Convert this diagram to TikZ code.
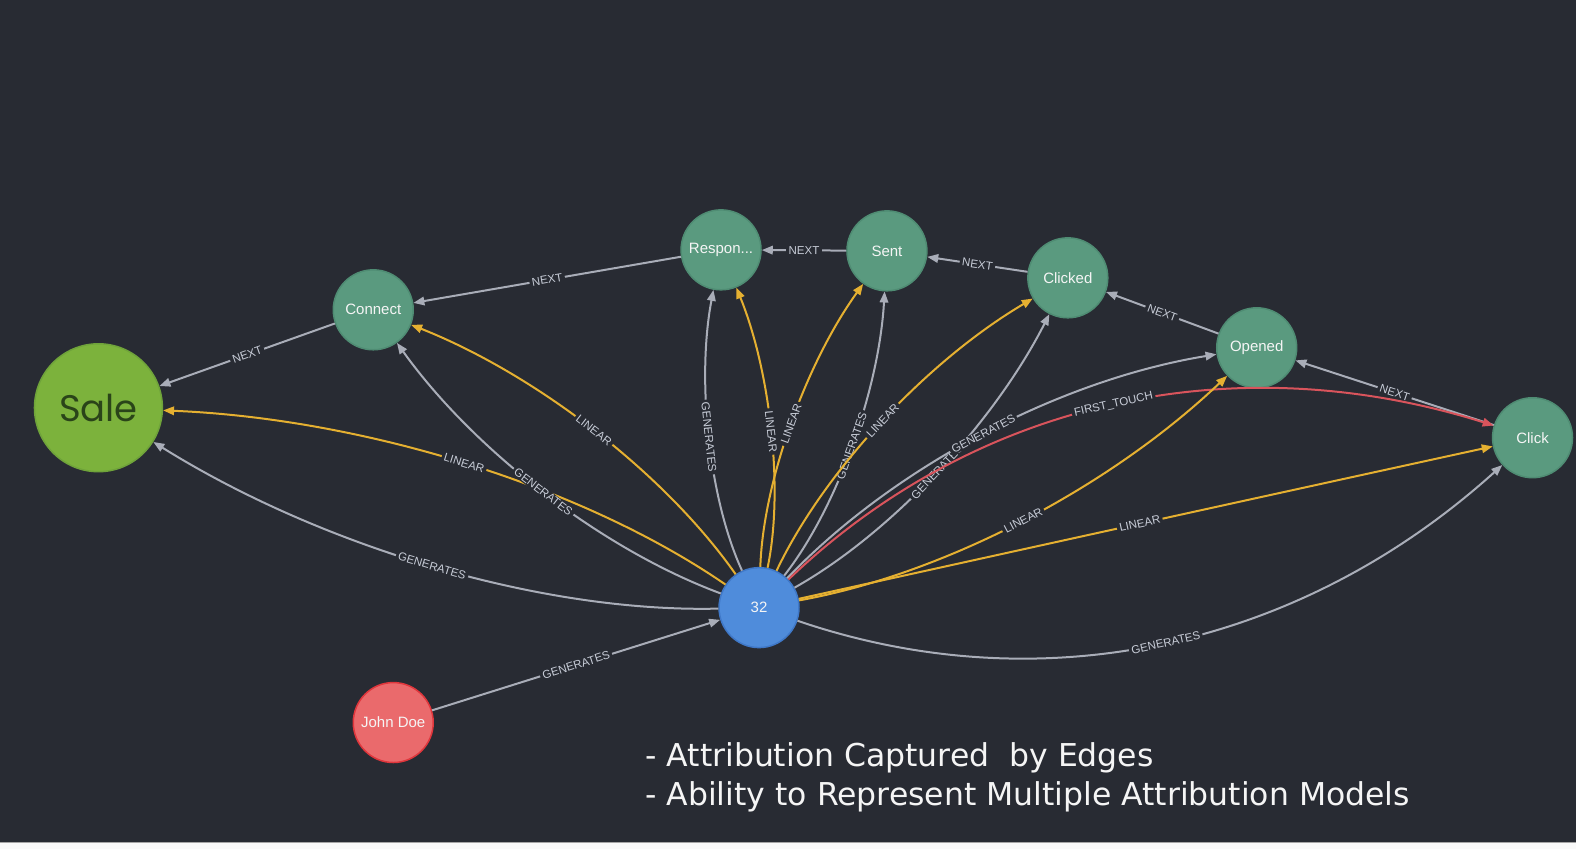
\documentclass[tikz,border=0pt]{standalone}
\usepackage{fontspec}
\setmainfont{Liberation Sans}
\newfontfamily\salefont{Poppins}
\newfontfamily\capfont{DejaVu Sans}
\usetikzlibrary{arrows.meta}
\definecolor{bg}{HTML}{282B33}
\definecolor{ngreen}{HTML}{5A9A7F}
\definecolor{ngreenb}{HTML}{4F8C73}
\definecolor{nsale}{HTML}{7CB23C}
\definecolor{nsaleb}{HTML}{6FA33A}
\definecolor{nblue}{HTML}{4F8CDB}
\definecolor{nblueb}{HTML}{3F78C8}
\definecolor{nred}{HTML}{EA6A6C}
\definecolor{nredb}{HTML}{E0363C}
\definecolor{egrey}{HTML}{A9ADB8}
\definecolor{eyellow}{HTML}{E5B031}
\definecolor{ered}{HTML}{D9545C}
\definecolor{lbltext}{HTML}{C8CDD8}
\definecolor{saletext}{HTML}{2A4419}
\tikzset{
  basenode/.style={circle, inner sep=0pt, minimum size=80pt, line width=1.5pt, text=white!92!gray,
    font=\fontsize{15}{15}\selectfont},
  gnode/.style={basenode, fill=ngreen, draw=ngreenb},
  bnode/.style={basenode, fill=nblue, draw=nblueb},
  rnode/.style={basenode, fill=nred, draw=nredb},
  snode/.style={circle, inner sep=0pt, minimum size=128pt, fill=nsale, draw=nsaleb, line width=1.5pt,
    text=saletext, font=\salefont\fontsize{37}{37}\selectfont},
  edgebase/.style={line width=2pt, -{Triangle[length=11pt,width=8.5pt]}},
  ge/.style={edgebase, draw=egrey},
  ye/.style={edgebase, draw=eyellow},
  re/.style={edgebase, draw=ered},
  lbl/.style={pos=0.5, sloped, fill=bg, inner xsep=2.5pt, inner ysep=1pt, text=lbltext,
    font=\fontsize{11.5}{12}\selectfont},
  captxt/.style={anchor=west, inner sep=0pt, text=white!92!gray, font=\capfont\fontsize{31.5}{31.5}\selectfont}
}
\begin{document}
\begin{tikzpicture}[x=1pt,y=-1pt]
\fill[bg] (0,0) rectangle (1576,850);
\fill[white!96!gray] (0,843) rectangle (1576,850);
\draw[gray!70, line width=1pt] (0,843) -- (1576,843);
\useasboundingbox (0,0) rectangle (1576,850);

% nodes
\node[snode] (sale) at (98,408) {Sale};
\node[gnode] (connect) at (373,310) {Connect};
\node[gnode] (respon) at (721,250) {Respon...};
\node[gnode] (sent) at (887,251) {Sent};
\node[gnode] (clicked) at (1068,278) {Clicked};
\node[gnode] (opened) at (1257,348) {Opened};
\node[gnode] (click) at (1533,438) {Click};
\node[bnode] (n32) at (759,608) {32};
\node[rnode] (john) at (393,723) {John Doe};

% NEXT chain
\draw[ge] (connect) -- node[lbl]{NEXT} (sale);
\draw[ge] (respon) -- node[lbl]{NEXT} (connect);
\draw[ge] (sent) -- node[lbl]{NEXT} (respon);
\draw[ge] (clicked) -- node[lbl]{NEXT} (sent);
\draw[ge] (opened) -- node[lbl]{NEXT} (clicked);
\draw[ge] (click) -- node[lbl]{NEXT} (opened);

% John Doe
\draw[ge] (john) -- node[lbl]{GENERATES} (n32);

% edges from 32
\draw[ge] (n32) .. controls (540.7,613.3) and (320.3,546.7) .. node[lbl]{GENERATES} (sale);
\draw[ye] (n32) .. controls (580.7,485.3) and (360.3,418.7) .. node[lbl]{LINEAR} (sale);
\draw[ge] (n32) .. controls (602.3,550) and (473.7,450.7) .. node[lbl]{GENERATES} (connect);
\draw[ye] (n32) .. controls (665,474) and (536.3,374.7) .. node[lbl]{LINEAR} (connect);
\draw[ge] (n32) .. controls (709,499.3) and (696.3,380) .. node[lbl]{GENERATES} (respon);
\draw[ye] (n32) .. controls (783.7,492.7) and (771,373.3) .. node[lbl]{LINEAR} (respon);
\draw[ye] (n32) .. controls (763,483) and (805.7,364) .. node[lbl]{LINEAR} (sent);
\draw[ge] (n32) .. controls (836.3,509.7) and (879,390.7) .. node[lbl]{GENERATES} (sent);
\draw[ye] (n32) .. controls (824,471.3) and (927,361.3) .. node[lbl]{LINEAR} (clicked);
\draw[ge] (n32) .. controls (890.7,534) and (993.7,424) .. node[lbl]{GENERATES} (clicked);
\draw[ge] (n32) .. controls (894.3,466.7) and (1060.3,380) .. node[lbl]{GENERATES} (opened);
\draw[re] (n32) .. controls (975.7,400.7) and (1233.7,344) .. node[lbl]{FIRST\_TOUCH} (click);
\draw[ye] (n32) .. controls (943.7,574.7) and (1109.7,488) .. node[lbl]{LINEAR} (opened);
\draw[ye] (n32) .. controls (1009,552.7) and (1267,496) .. node[lbl]{LINEAR} (click);
\draw[ge] (n32) .. controls (1042.3,704.7) and (1300.3,648) .. node[lbl]{GENERATES} (click);

% caption
\node[captxt] (cap1) at (645,758) {- Attribution Captured\ \ by Edges};
\node[captxt] (cap2) at (645,797) {- Ability to Represent Multiple Attribution Models};
\end{tikzpicture}
\end{document}
